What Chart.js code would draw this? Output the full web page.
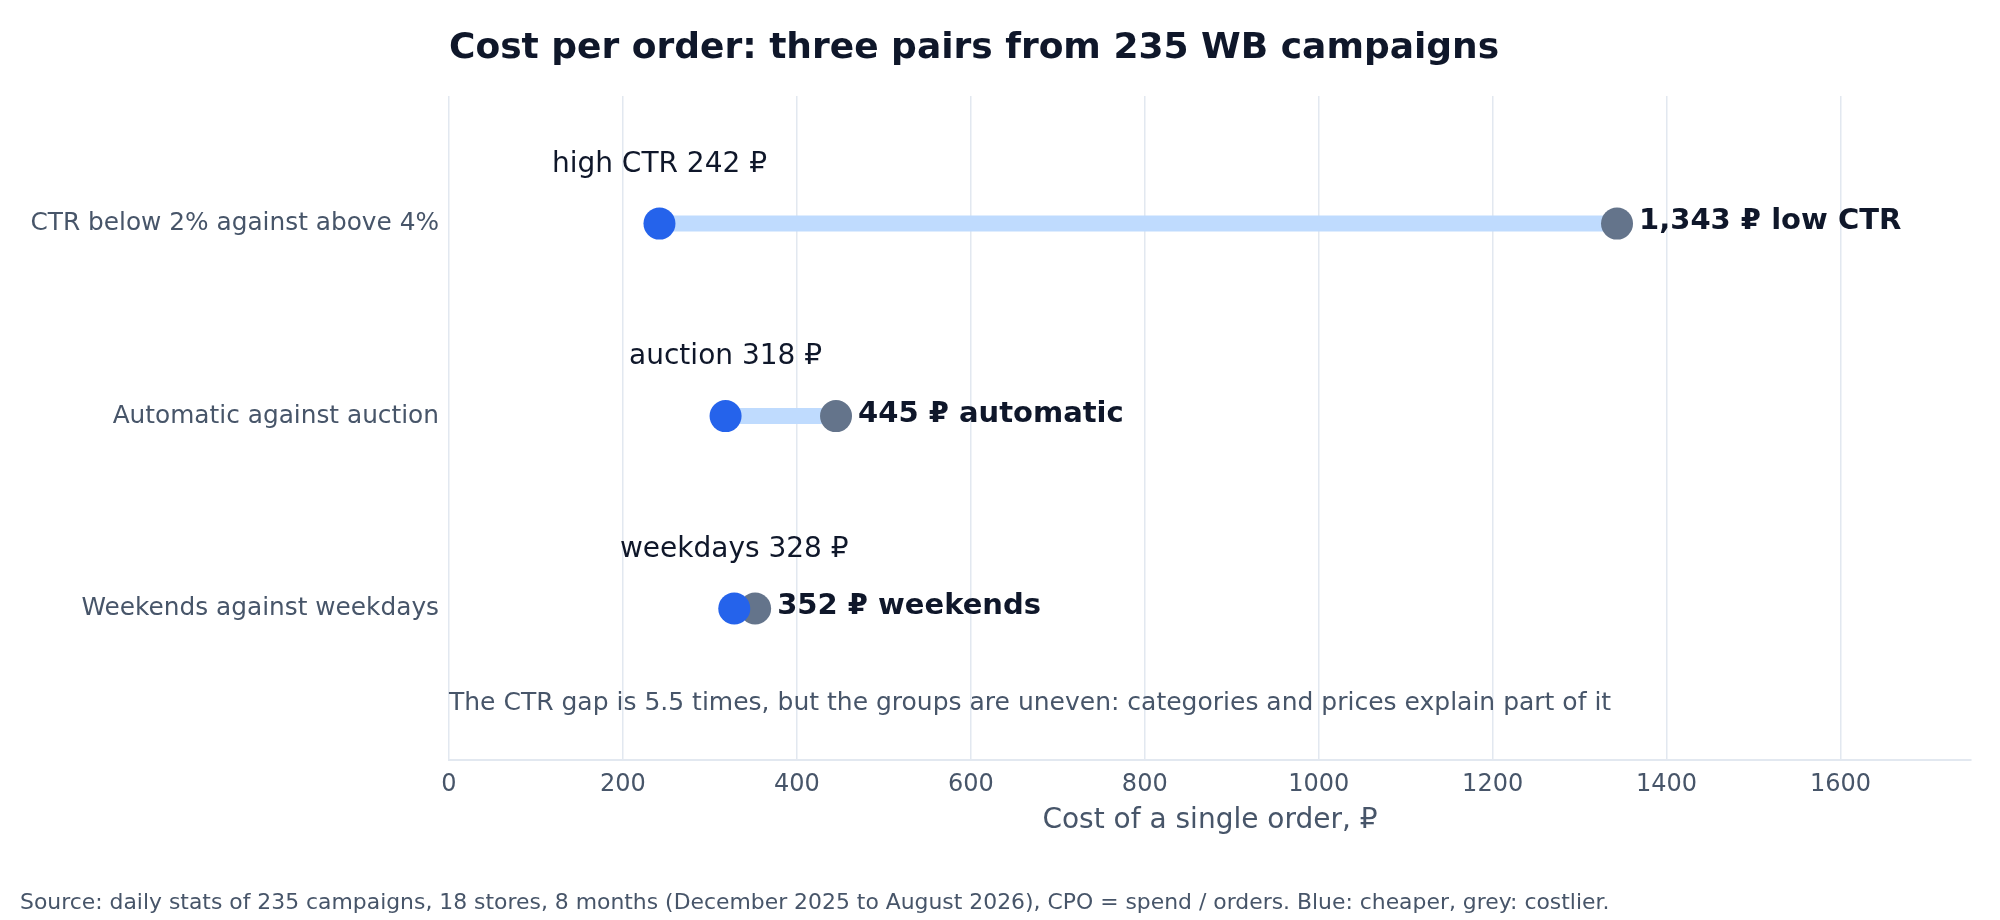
<!DOCTYPE html>
<html>
<head>
<meta charset="utf-8">
<script src="https://cdn.jsdelivr.net/npm/chart.js@4/dist/chart.umd.min.js"></script>
<style>
  body { margin: 0; background: #fff; }
  canvas { display: block; }
</style>
</head>
<body>
<canvas id="graph" width="2000" height="920"></canvas>
<script>
const categories = ['CTR below 2% against above 4%', 'Automatic against auction', 'Weekends against weekdays']
const cheaperValues = [242, 318, 328]
const costlierValues = [1343, 445, 352]
const cheaperNames = ['high CTR', 'auction', 'weekdays']
const costlierNames = ['low CTR', 'automatic', 'weekends']
const xTicks = [0, 200, 400, 600, 800, 1000, 1200, 1400, 1600]

const titleText = 'Cost per order: three pairs from 235 WB campaigns'
const noteText = 'The CTR gap is 5.5 times, but the groups are uneven: categories and prices explain part of it'
const sourceText = 'Source: daily stats of 235 campaigns, 18 stores, 8 months (December 2025 to August 2026), CPO = spend / orders. Blue: cheaper, grey: costlier.'

const FONT = "'DejaVu Sans', sans-serif"
const dark = '#0f172a'
const muted = '#475569'
const gridColor = '#e2e8f0'

Chart.defaults.font.family = FONT

// dots first so they sit on top of the connecting lines
let datasets = []
datasets.push({
    type: 'scatter',
    label: 'cheaper',
    data: cheaperValues.map((v, i) => ({x: v, y: i})),
    backgroundColor: '#2563eb',
    borderWidth: 0,
    pointRadius: 16,
    pointHoverRadius: 16
})
datasets.push({
    type: 'scatter',
    label: 'costlier',
    data: costlierValues.map((v, i) => ({x: v, y: i})),
    backgroundColor: '#64748b',
    borderWidth: 0,
    pointRadius: 16,
    pointHoverRadius: 16
})
categories.forEach((c, i) => {
    datasets.push({
        type: 'line',
        label: c,
        data: [{x: cheaperValues[i], y: i}, {x: costlierValues[i], y: i}],
        borderColor: '#bfdbfe',
        borderWidth: 16,
        borderCapStyle: 'butt',
        pointRadius: 0,
        fill: false
    })
})

const extras = {
    id: 'extras',
    afterDatasetsDraw(chart) {
        const ctx = chart.ctx
        const xs = chart.scales.x, ys = chart.scales.y
        const area = chart.chartArea
        ctx.save()
        // pair labels
        categories.forEach((c, i) => {
            const y = ys.getPixelForValue(i)
            ctx.fillStyle = dark
            ctx.textBaseline = 'middle'
            ctx.font = `28px ${FONT}`
            ctx.textAlign = 'center'
            ctx.fillText(`${cheaperNames[i]} ${cheaperValues[i]} ₽`, xs.getPixelForValue(cheaperValues[i]), y - 59)
            ctx.font = `bold 29px ${FONT}`
            ctx.textAlign = 'left'
            ctx.fillText(`${costlierValues[i].toLocaleString('en-US')} ₽ ${costlierNames[i]}`, xs.getPixelForValue(costlierValues[i]) + 22, y - 2)
        })
        // note inside the plot
        ctx.font = `25px ${FONT}`
        ctx.fillStyle = muted
        ctx.textAlign = 'left'
        ctx.fillText(noteText, area.left, 703)
        // title and source
        ctx.font = `bold 36px ${FONT}`
        ctx.fillStyle = dark
        ctx.fillText(titleText, area.left, 49)
        ctx.font = `21.9px ${FONT}`
        ctx.fillStyle = muted
        ctx.fillText(sourceText, 20, 903)
        ctx.restore()
    }
}

new Chart('graph', {
    type: 'scatter',
    data: {datasets: datasets},
    options: {
        responsive: false,
        devicePixelRatio: 1,
        animation: false,
        layout: {padding: {top: 96, right: 29, bottom: 0, left: 0}},
        plugins: {
            legend: {display: false},
            tooltip: {enabled: false}
        },
        scales: {
            x: {
                type: 'linear',
                min: 0,
                max: 1750,
                afterBuildTicks: s => { s.ticks = xTicks.map(v => ({value: v})) },
                afterFit: s => { s.height = 160 },
                grid: {color: gridColor, lineWidth: 1.5, drawTicks: false},
                border: {color: gridColor, width: 2},
                ticks: {color: muted, font: {size: 24}, padding: 10, maxRotation: 0, callback: v => String(v)},
                title: {
                    display: true,
                    text: 'Cost of a single order, ₽',
                    color: muted,
                    font: {size: 28},
                    padding: {top: 0, bottom: 82}
                }
            },
            y: {
                type: 'linear',
                reverse: true,
                min: -0.663,
                max: 2.787,
                afterBuildTicks: s => { s.ticks = categories.map((c, i) => ({value: i})) },
                afterFit: s => { s.width = 449 },
                grid: {display: false},
                border: {display: false},
                ticks: {
                    color: muted,
                    font: {size: 24.8},
                    padding: 2,
                    callback: v => categories[v]
                }
            }
        }
    },
    plugins: [extras]
})
</script>
</body>
</html>
